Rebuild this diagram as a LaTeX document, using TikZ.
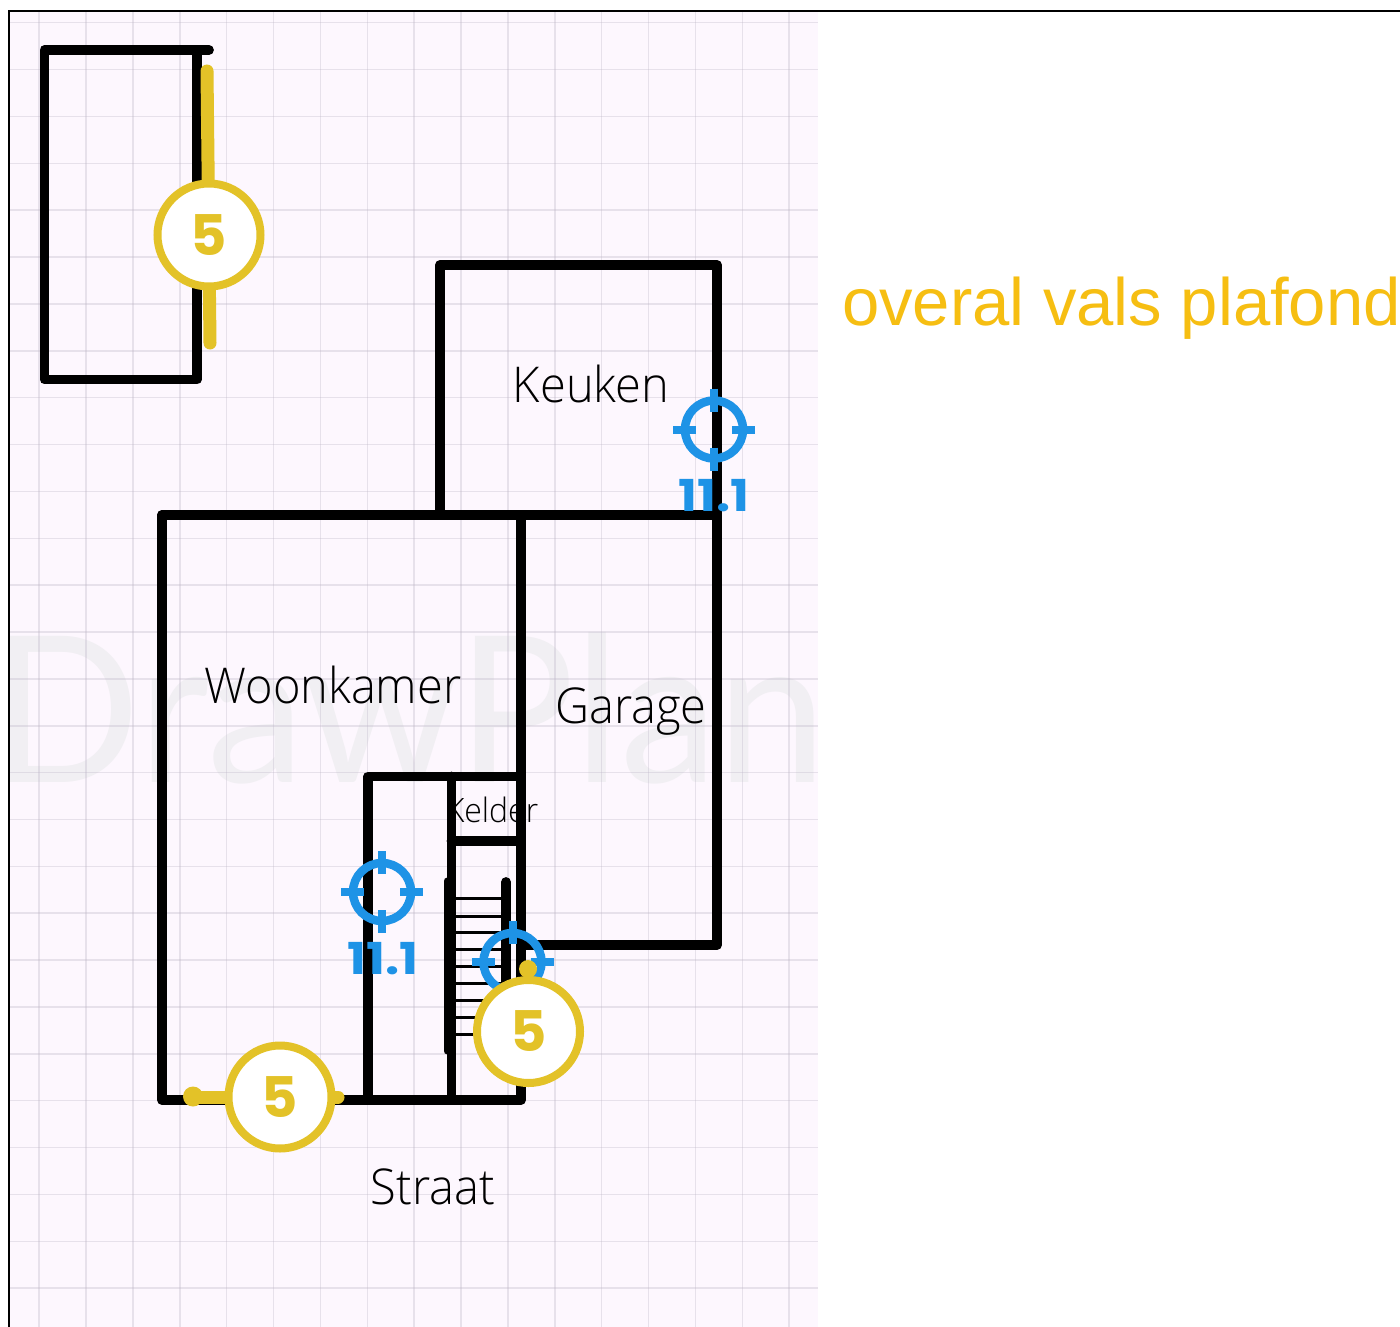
\documentclass[tikz,border=0pt]{standalone}
\usepackage{fontspec}
\setmainfont{Liberation Sans}
\newfontfamily\labelfont{Open Sans}[UprightFont=* Light]
\newfontfamily\markfont{Poppins}[UprightFont=* Bold]
\newfontfamily\wmfont{Lato}
\definecolor{bgpink}{HTML}{FDF7FE}
\definecolor{gridc}{HTML}{BDB5C6}
\definecolor{wmc}{HTML}{F1EFF3}
\definecolor{yell}{HTML}{E3C228}
\definecolor{blu}{HTML}{1E93E6}
\definecolor{orng}{HTML}{F6BE12}
\tikzset{
  x=1pt,y=-1pt,
  wall/.style={draw=black,line width=9.8pt,line join=round,line cap=round},
  rung/.style={draw=black,line width=3pt},
  stairside/.style={draw=black,line width=7pt,line cap=round},
  yline/.style={draw=yell,line cap=round,line width=13pt},
  ycirc/.style={circle,draw=yell,fill=white,line width=8pt,minimum size=103pt,inner sep=0pt,
     font=\markfont\fontsize{56}{56}\selectfont,text=yell},
  bring/.style={circle,draw=blu,line width=8.5pt,minimum size=58pt,inner sep=0pt},
  btick/.style={draw=blu,line width=8pt,line cap=butt},
  blab/.style={text=blu,font=\markfont\fontsize{44}{44}\selectfont,inner sep=0pt,xscale=1.14},
  room/.style={anchor=base,inner sep=0pt,text=black,font=\labelfont\fontsize{47}{47}\selectfont,yscale=1.05},
}
\newcommand{\targetmark}[2]{%
  \node[bring] (#1) at (#2) {};
  \draw[btick] ([xshift=-41pt]#1.center) -- ([xshift=-18pt]#1.center);
  \draw[btick] ([xshift=18pt]#1.center) -- ([xshift=41pt]#1.center);
  \draw[btick] ([yshift=41pt]#1.center) -- ([yshift=18pt]#1.center);
  \draw[btick] ([yshift=-18pt]#1.center) -- ([yshift=-41pt]#1.center);
}
\begin{document}
\begin{tikzpicture}
\useasboundingbox (0,0) rectangle (1400,1327);
\fill[white] (0,0) rectangle (1400,1327);
\fill[bgpink] (10,12) rectangle (818,1327);
\begin{scope}
\clip (10,12) rectangle (818,1327);
\node[anchor=base west,inner sep=0pt,text=wmc,font=\wmfont\fontsize{204}{204}\selectfont,xscale=0.96] (wm) at (-9,782) {DrawPlan};
\begin{scope}[opacity=0.33]
\foreach \k in {0,...,16} {
  \draw[gridc,line width=1.5pt] ({39.2+46.87*\k},12) -- ({39.2+46.87*\k},1327);
}
\foreach \k in {0,...,27} {
  \draw[gridc,line width=1.5pt] (10,{22.7+46.87*\k}) -- (818,{22.7+46.87*\k});
}
\end{scope}
\end{scope}
\draw[black,line width=2pt] (9,1327) -- (9,11) -- (1400,11);

% room labels (under the walls)
\node[room] (keuken) at (591,402) {Keuken};
\node[room] (woonkamer) at (333,703) {Woonkamer};
\node[room] (garage) at (631,723) {Garage};
\node[room,font=\labelfont\fontsize{32}{32}\selectfont] (kelder) at (492,822) {Kelder};
\node[room] (straat) at (433,1204) {Straat};

% walls
\draw[wall] (209,50) -- (44.5,50) -- (44.5,379.5) -- (197,379.5) -- (197,50);
\draw[wall] (440,515) -- (440,265) -- (717,265) -- (717,945) -- (521,945);
\draw[wall] (162,515) -- (717,515);
\draw[wall] (162,515) -- (162,1100) -- (521,1100) -- (521,515);
\draw[wall] (368,1100) -- (368,776.5) -- (521,776.5);
\draw[wall] (451.5,776.5) -- (451.5,1100);
\draw[wall] (451.5,841) -- (521,841);

% stairs
\draw[stairside] (447,881) -- (447,1051);
\draw[wall] (506,882) -- (506,1000);
\foreach \yy in {898,916,932,949,966,983,1000,1017,1034} {
  \draw[rung] (451,\yy) -- (506,\yy);
}

% blue targets
\targetmark{ta}{714,429.5}
\node[blab] (la) at (714,496) {11.1};
\targetmark{tb}{382,892}
\node[blab] (lb) at (383,959) {11.1};
\targetmark{tc}{512.5,962}

% yellow markers
\draw[yline] (207,71) -- (210,343);
\node[ycirc] (ca) at (209,235) {\raisebox{-2pt}{5}};
\draw[yline] (193,1097) -- (338,1097);
\fill[yell] (193,1096.5) circle (10pt);
\node[ycirc] (cb) at (280,1097) {\raisebox{-2pt}{5}};
\fill[yell] (528,969) circle (9pt);
\node[ycirc] (cc) at (528.5,1031.5) {\raisebox{-2pt}{5}};

\node[anchor=base west,inner sep=0pt,text=orng,font=\fontsize{67}{67}\selectfont] (note) at (842,325) {overal vals plafond};
\end{tikzpicture}
\end{document}
